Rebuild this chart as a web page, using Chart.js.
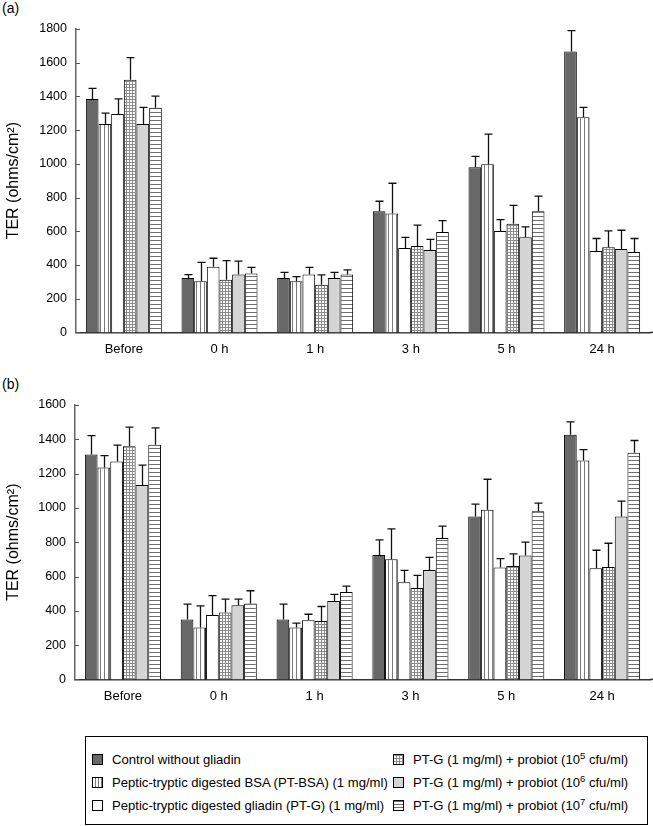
<!DOCTYPE html>
<html>
<head>
<meta charset="utf-8">
<script src="https://cdn.jsdelivr.net/npm/chart.js@4.4.1/dist/chart.umd.min.js"></script>
<style>
  html,body{margin:0;padding:0;background:#fff;}
  #wrap{position:relative;width:653px;height:826px;background:#fff;font-family:"Liberation Sans",Arial,sans-serif;color:#000;}
  .panel{position:absolute;font-size:14px;}
  .cv{position:absolute;left:0;}
  #legend{position:absolute;left:85px;top:736px;width:563px;height:89px;border:1px solid #000;box-sizing:border-box;}
  .row{position:absolute;height:20px;line-height:20px;font-size:13.1px;white-space:nowrap;}
  .sw{position:absolute;width:9px;height:9px;border:1px solid #000;box-sizing:content-box;}
  .tx{position:absolute;}
  sup{font-size:9.5px;line-height:0;vertical-align:5px;}
</style>
</head>
<body>
<div id="wrap">
  <div class="panel" style="left:2px;top:0px;">(a)</div>
  <canvas id="ca" class="cv" width="653" height="371" style="top:0px;"></canvas>
  <div class="panel" style="left:2px;top:376px;">(b)</div>
  <canvas id="cb" class="cv" width="653" height="356" style="top:360px;"></canvas>
  <div id="legend"></div>
</div>
<script>
// ---------- data ----------
const categories = ["Before", "0 h", "1 h", "3 h", "5 h", "24 h"];
const seriesNames = [
  "Control without gliadin",
  "Peptic-tryptic digested BSA (PT-BSA) (1 mg/ml)",
  "Peptic-tryptic digested gliadin (PT-G) (1 mg/ml)",
  "PT-G (1 mg/ml) + probiot (10<sup>5</sup> cfu/ml)",
  "PT-G (1 mg/ml) + probiot (10<sup>6</sup> cfu/ml)",
  "PT-G (1 mg/ml) + probiot (10<sup>7</sup> cfu/ml)"
];
const yTitle = "TER (ohms/cm\u00B2)";

// Panel (a) means
const aControl = [1384, 323, 323, 719, 980, 1667];
const aBSA     = [1236, 303, 303, 705, 998, 1277];
const aPTG     = [1295, 390, 343, 501, 602, 483];
const aP5      = [1499, 313, 283, 513, 644, 505];
const aP6      = [1236, 343, 323, 489, 564, 495];
const aP7      = [1333, 349, 343, 596, 719, 477];
// Panel (a) error (upper) magnitudes
const aControlErr = [64, 20, 33, 59, 64, 123];
const aBSAErr     = [65, 112, 28, 180, 178, 58];
const aPTGErr     = [91, 50, 43, 63, 67, 74];
const aP5Err      = [131, 113, 58, 123, 110, 97];
const aP6Err      = [99, 80, 33, 63, 62, 111];
const aP7Err      = [69, 37, 28, 67, 89, 80];

// Panel (b) means
const bControl = [1311, 349, 349, 726, 950, 1426];
const bBSA     = [1235, 302, 302, 700, 989, 1276];
const bPTG     = [1270, 375, 345, 566, 652, 648];
const bP5      = [1360, 390, 341, 533, 661, 656];
const bP6      = [1134, 433, 457, 638, 722, 950];
const bP7      = [1368, 443, 509, 825, 981, 1321];
// Panel (b) error (upper) magnitudes
const bControlErr = [111, 90, 90, 88, 72, 76];
const bBSAErr     = [70, 127, 26, 178, 178, 64];
const bPTGErr     = [96, 113, 35, 70, 52, 105];
const bP5Err      = [111, 78, 84, 74, 71, 138];
const bP6Err      = [115, 35, 39, 74, 78, 90];
const bP7Err      = [99, 74, 35, 69, 47, 72];

const aMax = 1800, bMax = 1600, yStep = 200;

// ---------- patterns ----------
function makePattern(w, h, draw) {
  const c = document.createElement('canvas');
  c.width = w; c.height = h;
  const g = c.getContext('2d');
  g.fillStyle = '#fff'; g.fillRect(0, 0, w, h);
  draw(g);
  return document.createElement('canvas').getContext('2d').createPattern(c, 'repeat');
}
const patVert = makePattern(4, 4, g => { g.fillStyle = '#7a7a7a'; g.fillRect(0, 0, 1, 4); });
const patGrid = makePattern(3, 3, g => { g.fillStyle = '#8c8c8c'; g.fillRect(0, 0, 1, 3); g.fillRect(0, 0, 3, 1); });
const patHorz = makePattern(4, 4, g => { g.fillStyle = '#6e6e6e'; g.fillRect(0, 0, 4, 1); });
const fills = ['#686868', patVert, '#ffffff', patGrid, '#d4d4d4', patHorz];

const FONT = '"Liberation Sans", Arial, sans-serif';

// ---------- plugins ----------
const errPlugin = {
  id: 'errbars',
  afterDatasetsDraw(chart) {
    const ctx = chart.ctx, y = chart.scales.y;
    ctx.save();
    ctx.strokeStyle = '#111';
    ctx.lineWidth = 1.3;
    chart.data.datasets.forEach((ds, i) => {
      const meta = chart.getDatasetMeta(i);
      meta.data.forEach((bar, j) => {
        const top = y.getPixelForValue(ds.data[j] + ds.errors[j]);
        const x = Math.round(bar.x) + 0.5;
        ctx.beginPath();
        ctx.moveTo(x, bar.y);
        ctx.lineTo(x, top);
        ctx.moveTo(x - 4, top);
        ctx.lineTo(x + 4, top);
        ctx.stroke();
      });
    });
    ctx.restore();
  }
};
const tickPlugin = {
  id: 'inticks',
  afterDraw(chart) {
    const ctx = chart.ctx, y = chart.scales.y, x0 = chart.chartArea.left;
    ctx.save();
    ctx.strokeStyle = '#555';
    ctx.lineWidth = 1;
    y.ticks.forEach(t => {
      const py = Math.round(y.getPixelForValue(t.value)) + 0.5;
      ctx.beginPath();
      ctx.moveTo(x0, py);
      ctx.lineTo(x0 + 4, py);
      ctx.stroke();
    });
    // x axis line continues to the right edge
    const yb = chart.chartArea.bottom;
    ctx.strokeStyle = '#333';
    ctx.lineWidth = 1.5;
    ctx.beginPath();
    ctx.moveTo(chart.chartArea.right, yb);
    ctx.lineTo(chart.width, yb);
    ctx.stroke();
    ctx.restore();
  }
};

function makeChart(id, series, errs, yMax, padTop, padBottom, leftW) {
  const datasets = series.map((d, i) => ({
    label: seriesNames[i],
    data: d,
    errors: errs[i],
    backgroundColor: fills[i],
    borderColor: '#000',
    borderWidth: 1,
    categoryPercentage: 0.794,
    barPercentage: 1.0
  }));
  return new Chart(document.getElementById(id), {
    type: 'bar',
    data: { labels: categories, datasets },
    options: {
      responsive: false,
      animation: false,
      devicePixelRatio: 1,
      layout: { padding: { top: padTop, bottom: padBottom, left: 0, right: 3 } },
      plugins: { legend: { display: false }, tooltip: { enabled: false } },
      scales: {
        x: {
          grid: { display: false, drawTicks: false },
          border: { color: '#333', width: 1.5 },
          ticks: { color: '#000', font: { family: FONT, size: 13 }, padding: 9 }
        },
        y: {
          min: 0, max: yMax,
          afterFit: s => { s.width = leftW; },
          grid: { display: false, drawTicks: false },
          border: { color: '#666', width: 1.5 },
          ticks: { stepSize: yStep, color: '#000', font: { family: FONT, size: 12.5 }, padding: 9,
                   callback: v => String(v) },
          title: { display: true, text: yTitle, color: '#000', font: { family: FONT, size: 16 }, padding: { top: 4, bottom: 0 } }
        }
      }
    },
    plugins: [errPlugin, tickPlugin]
  });
}

makeChart('ca', [aControl, aBSA, aPTG, aP5, aP6, aP7],
  [aControlErr, aBSAErr, aPTGErr, aP5Err, aP6Err, aP7Err], aMax, 29, 5, 76);
makeChart('cb', [bControl, bBSA, bPTG, bP5, bP6, bP7],
  [bControlErr, bBSAErr, bPTGErr, bP5Err, bP6Err, bP7Err], bMax, 45, 3, 75);

// ---------- legend ----------
const swCss = [
  'background:#686868;',
  'background:repeating-linear-gradient(90deg,#fff 0 2px,#7a7a7a 2px 3px);',
  'background:#fff;',
  'background:repeating-linear-gradient(90deg,transparent 0 2px,#8c8c8c 2px 3px),repeating-linear-gradient(0deg,#fff 0 2px,#8c8c8c 2px 3px);',
  'background:#d4d4d4;',
  'background:repeating-linear-gradient(0deg,#fff 0 2px,#6e6e6e 2px 3px);'
];
const lg = document.getElementById('legend');
const rowTops = [13, 36, 59];
seriesNames.forEach((name, i) => {
  const col = i < 3 ? 0 : 1;
  const r = i % 3;
  const row = document.createElement('div');
  row.className = 'row';
  row.style.top = rowTops[r] + 'px';
  row.style.left = (col === 0 ? 6 : 307) + 'px';
  row.innerHTML = '<div class="sw" style="left:0;top:4px;' + swCss[i] + '"></div>' +
                  '<div class="tx" style="left:' + (col === 0 ? 20 : 20) + 'px;">' + name + '</div>';
  lg.appendChild(row);
});
</script>
</body>
</html>
